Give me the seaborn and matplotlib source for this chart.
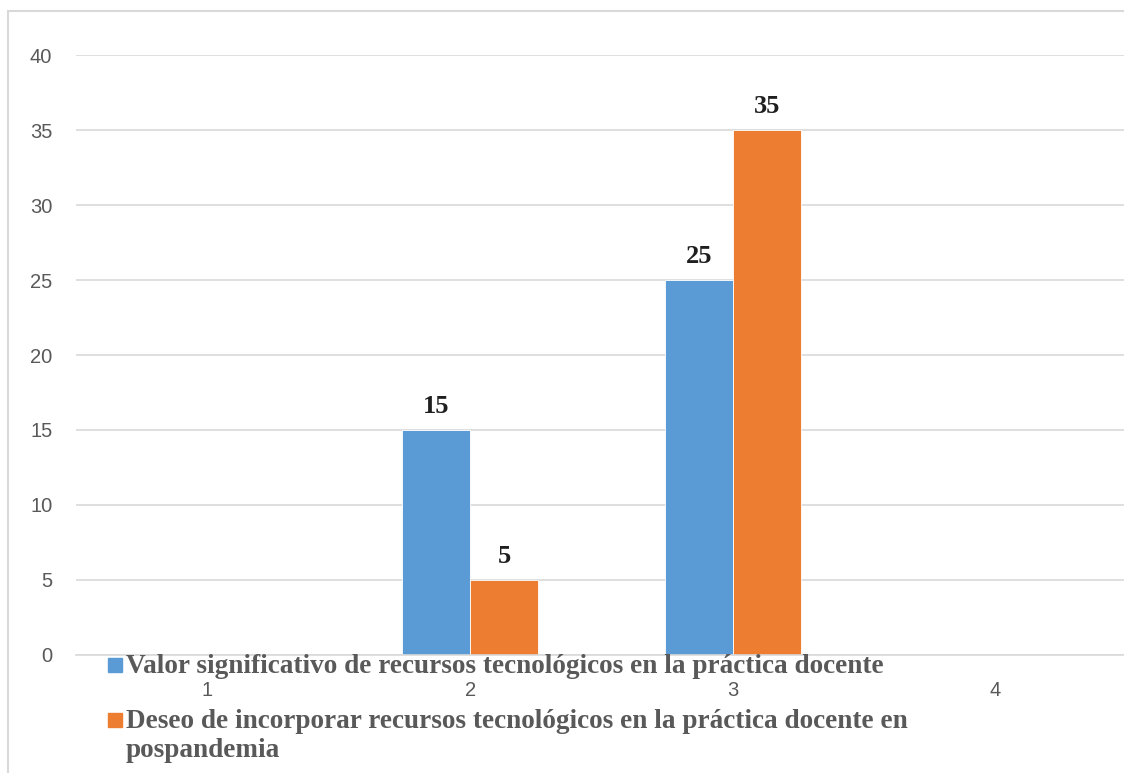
import pandas as pd
import numpy as np
import matplotlib.pyplot as plt
import seaborn as sns
from matplotlib.patches import Rectangle
from matplotlib.lines import Line2D

# Data
categories = ['1', '2', '3', '4']
series_names = ['Valor significativo de recursos tecnológicos en la práctica docente',
                'Deseo de incorporar recursos tecnológicos en la práctica docente en\npospandemia']
valor = [0, 15, 25, 0]
deseo = [0, 5, 35, 0]
colors = ['#5b9bd5', '#ed7d31']
y_ticks = [0, 5, 10, 15, 20, 25, 30, 35, 40]

df = pd.DataFrame({
    'cat': categories * 2,
    'serie': [series_names[0]] * 4 + [series_names[1]] * 4,
    'valor': valor + deseo,
})

sns.set_style('white')
plt.rcParams['font.family'] = ['Liberation Sans', 'DejaVu Sans']

fig = plt.figure(figsize=(11.24, 7.73), dpi=100)
ax = fig.add_axes([0.0676, 0.1527, 0.935, 0.7761])

sns.barplot(data=df, x='cat', y='valor', hue='serie', palette=colors, saturation=1,
            width=0.52, edgecolor='white', linewidth=0.6, legend=False, ax=ax)

ax.set_ylim(0, 40)
ax.set_yticks(y_ticks)
ax.set_xlim(-0.5, 3.5)
ax.yaxis.grid(True, color='#d9d9d9', linewidth=1.2)
ax.set_axisbelow(True)
for s in ['top', 'right', 'left']:
    ax.spines[s].set_visible(False)
ax.spines['bottom'].set_color('#d9d9d9')
ax.spines['bottom'].set_linewidth(1.2)
ax.tick_params(axis='y', length=0, pad=17, labelsize=14.5, labelcolor='#595959')
ax.tick_params(axis='x', length=0, pad=19, labelsize=14.5, labelcolor='#595959')
ax.set_xlabel('')
ax.set_ylabel('')

# data labels
for cont in ax.containers:
    for bar in cont:
        h = bar.get_height()
        if h > 0:
            ax.text(bar.get_x() + bar.get_width() / 2, h + 1.13, f'{h:.0f}',
                    ha='center', va='baseline', fontsize=19, fontweight='bold',
                    family='Liberation Serif', color='#1f1f1f')

# legend drawn manually so the square sits on the first line
W, H = 1124, 773
square_top = [658, 713]
baselines = [[673], [728, 757]]
for i, name in enumerate(series_names):
    fig.patches.append(Rectangle((108 / W, 1 - (square_top[i] + 14) / H), 13.5 / W, 14 / H,
                                 transform=fig.transFigure, color=colors[i]))
    for line, yb in zip(name.split('\n'), baselines[i]):
        fig.text(126 / W, 1 - yb / H, line, ha='left', va='baseline',
                 fontsize=19.6, fontweight='bold', family='Liberation Serif',
                 color='#595959')

# chart border
fig.lines.append(Line2D([8 / W, 8 / W], [0, 1 - 11 / H], transform=fig.transFigure,
                        color='#d9d9d9', linewidth=1.5))
fig.lines.append(Line2D([8 / W, 1], [1 - 11 / H, 1 - 11 / H], transform=fig.transFigure,
                        color='#d9d9d9', linewidth=1.5))

fig.savefig('out.png', dpi=100)
